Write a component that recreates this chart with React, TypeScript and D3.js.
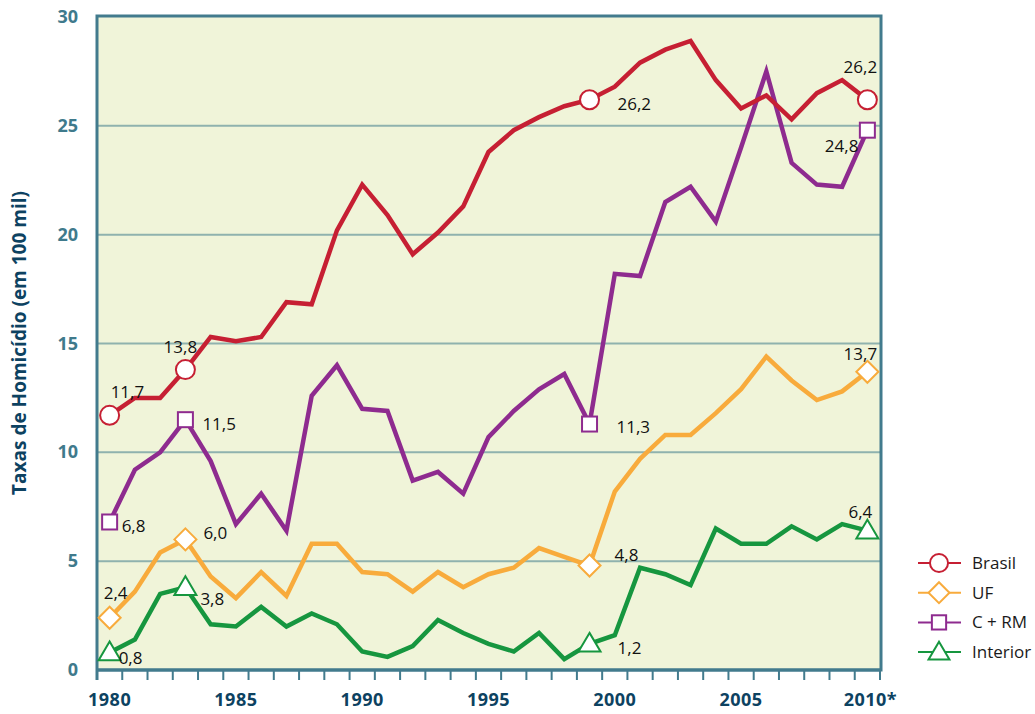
import * as d3 from "d3";

const years = d3.range(1980, 2011);
const xTickLabels = ["1980", "1985", "1990", "1995", "2000", "2005", "2010*"];
const yTicks = [0, 5, 10, 15, 20, 25, 30];

const brasil = [11.7, 12.5, 12.5, 13.8, 15.3, 15.1, 15.3, 16.9, 16.8, 20.2, 22.3, 20.9, 19.1, 20.1, 21.3, 23.8, 24.8, 25.4, 25.9, 26.2, 26.8, 27.9, 28.5, 28.9, 27.1, 25.8, 26.4, 25.3, 26.5, 27.1, 26.2];
const uf = [2.4, 3.6, 5.4, 6.0, 4.3, 3.3, 4.5, 3.4, 5.8, 5.8, 4.5, 4.4, 3.6, 4.5, 3.8, 4.4, 4.7, 5.6, 5.2, 4.8, 8.2, 9.7, 10.8, 10.8, 11.8, 12.9, 14.4, 13.3, 12.4, 12.8, 13.7];
const crm = [6.8, 9.2, 10.0, 11.5, 9.6, 6.7, 8.1, 6.4, 12.6, 14.0, 12.0, 11.9, 8.7, 9.1, 8.1, 10.7, 11.9, 12.9, 13.6, 11.3, 18.2, 18.1, 21.5, 22.2, 20.6, 24.0, 27.5, 23.3, 22.3, 22.2, 24.8];
const interior = [0.8, 1.4, 3.5, 3.8, 2.1, 2.0, 2.9, 2.0, 2.6, 2.1, 0.85, 0.6, 1.1, 2.3, 1.7, 1.2, 0.85, 1.7, 0.5, 1.2, 1.6, 4.7, 4.4, 3.9, 6.5, 5.8, 5.8, 6.6, 6.0, 6.7, 6.4];

const labelYears = [1980, 1983, 1999, 2010];

type Shape = "circle" | "diamond" | "square" | "triangle";

const series: { name: string; values: number[]; color: string; shape: Shape }[] = [
  { name: "Brasil", values: brasil, color: "#c61f33", shape: "circle" },
  { name: "UF", values: uf, color: "#f8ab3c", shape: "diamond" },
  { name: "C + RM", values: crm, color: "#8e2b8f", shape: "square" },
  { name: "Interior", values: interior, color: "#16963f", shape: "triangle" },
];

// label offsets [dx, dy, anchor] per series, per label year
const labelOffsets: Record<string, [number, number, string][]> = {
  Brasil: [[1, -17, "start"], [-5, -17, "middle"], [28, 10, "start"], [-7, -27, "middle"]],
  UF: [[6, -19, "middle"], [18, 0, "start"], [25, -5, "start"], [-7, -12, "middle"]],
  "C + RM": [[12, 10, "start"], [17, 10, "start"], [27, 9, "start"], [-9, 22, "end"]],
  Interior: [[9, 11, "start"], [15, 18, "start"], [28, 10, "start"], [-7, -13, "middle"]],
};

const axisColor = "#427b8d";
const width = 1035;
const height = 714;
const left = 97;
const right = 881;
const top = 16;
const bottom = 670;

function Marker({ shape, x, y, color, s = 1 }: { shape: Shape; x: number; y: number; color: string; s?: number }) {
  const common = { fill: "#fff", stroke: color, strokeWidth: 2 };
  if (shape === "circle") return <circle cx={x} cy={y} r={9.5 * s} {...common} />;
  if (shape === "diamond") {
    const r = 11 * s;
    return <path d={`M${x},${y - r}L${x + r},${y}L${x},${y + r}L${x - r},${y}Z`} {...common} />;
  }
  if (shape === "square") {
    const r = 7.5 * s;
    return <rect x={x - r} y={y - r} width={2 * r} height={2 * r} {...common} />;
  }
  const r = 11 * s;
  return <path d={`M${x},${y - r}L${x + r},${y + r * 0.7}L${x - r},${y + r * 0.7}Z`} {...common} />;
}

export default function App() {
  const xBand = d3.scaleBand<number>().domain(years).range([left, right - 1]).padding(0);
  const bw = xBand.bandwidth();
  const x = (yr: number) => (xBand(yr) ?? 0) + bw / 2;
  const y = d3.scaleLinear().domain([0, 30]).range([bottom, top + 1]);

  const line = d3
    .line<number>()
    .x((_, i) => x(years[i]))
    .y((d) => y(d));

  const boundaries = years.map((yr) => xBand(yr) ?? 0).concat([right - 1]);

  return (
    <svg width={width} height={height} style={{ position: "absolute", left: 0, top: 0, fontFamily: "'Open Sans', sans-serif" }}>
      <rect x={left} y={top} width={right - left} height={bottom - top} fill="#f0f4d9" />
      {yTicks.slice(1, -1).map((t) => (
        <line key={t} x1={left} x2={right} y1={y(t)} y2={y(t)} stroke="#8fb2ae" strokeWidth={2} />
      ))}
      {yTicks.map((t) => (
        <text key={t} x={78} y={y(t) + 6} textAnchor="end" fontSize={18} fontWeight={700} fill="#3f7a8c">
          {t}
        </text>
      ))}
      <text
        transform={`translate(26,${(top + bottom) / 2}) rotate(-90)`}
        textAnchor="middle"
        fontSize={19}
        fontWeight={700}
        fill="#0d4261"
      >
        Taxas de Homicídio (em 100 mil)
      </text>
      {boundaries.map((b, i) => (
        <line key={i} x1={b} x2={b} y1={bottom} y2={bottom + 10} stroke={axisColor} strokeWidth={2} />
      ))}
      {xTickLabels.map((lab) => {
        const yr = parseInt(lab, 10);
        return (
          <text key={lab} x={x(yr) + (lab.endsWith("*") ? 3 : 0)} y={706} textAnchor="middle" fontSize={18} fontWeight={700} fill="#0d4261" letterSpacing={0.5}>
            {lab}
          </text>
        );
      })}
      <path
        d={`M${left},${bottom + 10}V${top}H${right}V${bottom}H${left}`}
        fill="none"
        stroke={axisColor}
        strokeWidth={3}
      />
      <line x1={left} x2={right} y1={bottom} y2={bottom} stroke={axisColor} strokeWidth={3} />
      {[...series].reverse().map((s) => (
        <path key={s.name} d={line(s.values) ?? ""} fill="none" stroke={s.color} strokeWidth={4.5} strokeLinejoin="miter" />
      ))}
      {series.map((s) =>
        labelYears.map((yr, j) => {
          const i = years.indexOf(yr);
          const v = s.values[i];
          const [dx, dy, anchor] = labelOffsets[s.name][j];
          return (
            <g key={s.name + yr}>
              <Marker shape={s.shape} x={x(yr)} y={y(v)} color={s.color} />
              <text x={x(yr) + dx} y={y(v) + dy} textAnchor={anchor} fontSize={17} fill="#111">
                {v.toFixed(1).replace(".", ",")}
              </text>
            </g>
          );
        })
      )}
      {series.map((s, i) => {
        const ly = 563 + i * 29.7;
        return (
          <g key={s.name}>
            <line x1={918} x2={961} y1={ly} y2={ly} stroke={s.color} strokeWidth={2} />
            <Marker shape={s.shape} x={939} y={ly} color={s.color} s={0.95} />
            <text x={972} y={ly + 6} fontSize={17} fill="#1a1a1a">
              {s.name}
            </text>
          </g>
        );
      })}
    </svg>
  );
}
